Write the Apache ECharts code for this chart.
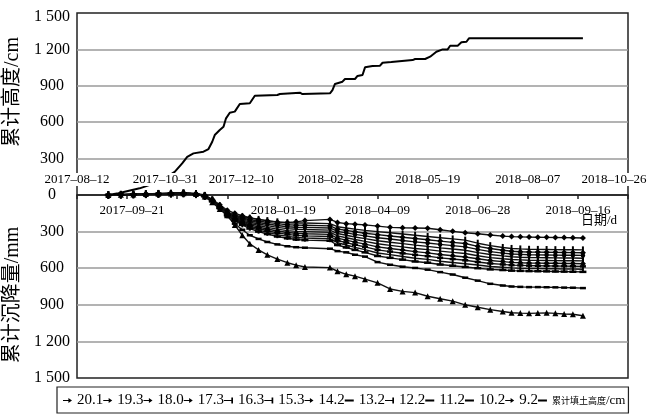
<!DOCTYPE html>
<html>
<head>
<meta charset="utf-8">
<script src="https://cdn.jsdelivr.net/npm/echarts@6/dist/echarts.min.js"></script>
<style>
  html, body { margin: 0; padding: 0; background: #fff; }
  #chart { width: 649px; height: 415px; }
</style>
</head>
<body>
<div id="chart"></div>
<script>
// ---- survey dates of the settlement plates ----
const surveyDates = [
  '2017-09-06','2017-09-16','2017-09-26','2017-10-06','2017-10-16','2017-10-26','2017-11-05','2017-11-15',
  '2017-11-22','2017-11-28','2017-12-04','2017-12-10','2017-12-16','2017-12-22','2017-12-28','2018-01-04',
  '2018-01-11','2018-01-19','2018-01-27','2018-02-03','2018-02-10','2018-03-02','2018-03-08','2018-03-15',
  '2018-03-22','2018-03-30','2018-04-09','2018-04-19','2018-04-29','2018-05-09','2018-05-19','2018-05-29',
  '2018-06-08','2018-06-18','2018-06-28','2018-07-08','2018-07-18','2018-07-25','2018-08-01','2018-08-08',
  '2018-08-15','2018-08-22','2018-08-29','2018-09-05','2018-09-12','2018-09-20'
];

// ---- cumulative settlement (mm) per plate ----
const settle201 = [0,-3,-6,-8,-12,-15,-18,-12, 0,35,80,125,150,170,185,200,212,222, 225,220,210,200,225,235,240,245,255,265, 268,270,272,285,298,310,318,328,337,341, 343,345,346,347,348,349,350,353];
const settle193 = [0,-3,-5,-8,-10,-12,-15,-10, 5,40,90,140,165,180,190,200,210,220, 228,230,230,235,260,270,280,290,300,310, 320,330,340,350,360,370,395,415,430,438, 442,445,446,447,448,449,449,450];
const settle180 = [0,-2,-5,-7,-10,-12,-14,-9, 6,41,92,143,171,188,201,213,224,235, 244,247,248,253,279,290,301,313,325,336, 346,357,367,378,388,398,421,439,453,461, 465,467,468,469,470,471,472,473];
const settle173 = [0,-3,-6,-8,-11,-13,-15,-8, 6,43,94,146,176,196,211,225,238,250, 260,264,265,270,298,310,323,335,350,361, 373,384,394,405,415,425,446,464,476,484, 487,490,491,492,493,494,494,495];
const settle163 = [0,-2,-4,-7,-9,-11,-13,-7, 7,44,96,149,182,204,222,238,251,265, 276,281,283,288,316,330,344,358,375,387, 399,411,421,433,443,453,472,488,499,506, 510,512,513,514,515,516,517,518];
const settle153 = [0,-3,-5,-8,-10,-13,-16,-8, 8,45,98,153,188,213,233,250,265,280, 292,298,300,305,335,350,365,380,400,413, 425,438,448,460,470,480,498,513,523,529, 532,535,536,537,538,539,539,540];
const settle142 = [0,-2,-4,-6,-9,-11,-12,-6, 8,46,99,156,193,221,243,263,279,295, 307,314,318,323,354,370,386,403,425,438, 451,464,474,488,498,508,523,537,546,552, 555,557,558,559,560,561,562,563];
const settle132 = [0,-2,-5,-7,-9,-12,-13,-6, 9,48,101,159,199,229,254,275,293,310, 323,331,335,340,373,390,408,425,450,464, 478,491,501,515,525,535,549,561,569,575, 577,579,580,581,582,583,584,585];
const settle122 = [0,-1,-3,-5,-8,-10,-12,-5, 9,49,103,162,204,237,264,288,306,325, 339,348,353,358,391,410,429,448,475,489, 504,518,528,543,553,563,574,586,592,597, 600,602,603,604,605,606,607,608];
const settle112 = [0,-2,-4,-6,-8,-10,-12,-5, 10,50,105,165,210,245,275,300,320,340, 355,365,370,375,410,430,450,470,500,515, 530,545,555,570,580,590,600,610,615,620, 622,624,625,626,627,628,629,630];
const settle102 = [0,-2,-4,-5,-8,-10,-12,-5, 10,52,110,175,235,285,330,360,385,405, 420,428,432,440,460,470,490,505,550,572, 588,598,612,632,652,678,702,728,742,750, 753,755,755,756,757,759,760,763];
const settle92  = [0,-2,-5,-8,-10,-12,-15,-8, 12,60,115,165,245,330,400,450,490,525, 555,575,590,595,625,650,665,690,720,770, 790,800,830,850,870,900,920,940,955,965, 968,970,968,966,970,975,978,990];

const plateNames = ['20.1','19.3','18.0','17.3','16.3','15.3','14.2','13.2','12.2','11.2','10.2','9.2'];
const plateValues = [settle201, settle193, settle180, settle173, settle163, settle153,
                     settle142, settle132, settle122, settle112, settle102, settle92];

// ---- cumulative fill height (cm) ----
const fillDates = [
  '2017-09-06','2017-09-14','2017-10-01','2017-10-17','2017-10-29','2017-11-04','2017-11-08','2017-11-13',
  '2017-11-21','2017-11-25','2017-11-28','2017-11-30','2017-12-04','2017-12-07','2017-12-09','2017-12-12',
  '2017-12-16','2017-12-20','2017-12-28','2018-01-01','2018-01-19','2018-01-21','2018-02-06','2018-02-08',
  '2018-03-02','2018-03-04','2018-03-06','2018-03-12','2018-03-14','2018-03-22','2018-03-24','2018-03-28',
  '2018-03-30','2018-04-05','2018-04-11','2018-04-13','2018-04-20','2018-04-21','2018-05-07','2018-05-09',
  '2018-05-17','2018-05-21','2018-05-26','2018-05-31','2018-06-04','2018-06-06','2018-06-12','2018-06-15',
  '2018-06-19','2018-06-21','2018-09-20'
];
const fillHeight = [
  0,15,55,110,190,260,315,343,
  357,379,439,494,536,563,632,678,
  687,750,756,818,824,832,843,832,
  838,865,915,934,956,956,981,989,
  1052,1063,1066,1090,1096,1107,1112,1121,
  1121,1140,1181,1200,1200,1230,1230,1258,
  1263,1291,1291
];
const fillName = '累计填土高度/cm';

// ---- date axis ticks ----
const tickDates = ['2017-08-12','2017-09-21','2017-10-31','2017-12-10','2018-01-19','2018-02-28',
                   '2018-04-09','2018-05-19','2018-06-28','2018-08-07','2018-09-16','2018-10-26'];

// ---------------------------------------------------------------
const DAY = 86400000;
const ORIGIN = Date.UTC(2017, 7, 12);
function dayOf(s) {
  const p = s.split('-').map(Number);
  return (Date.UTC(p[0], p[1] - 1, p[2]) - ORIGIN) / DAY;
}
function spaced(v) {
  v = Math.abs(v);
  return v >= 1000 ? Math.floor(v / 1000) + ' ' + String(v % 1000).padStart(3, '0') : String(v);
}

const SERIF = '"Liberation Serif", "Times New Roman", "Noto Sans CJK SC", serif';
const CJK = '"Noto Sans CJK SC", sans-serif';

// labels sit alternately above / below the zero line, nudged sideways where they crowd
const aboveIdx = [0, 2, 3, 5, 7, 9, 11];
const nudge = { 1: 5, 2: -12, 3: 14, 4: 6, 5: 3, 11: -14 };
function dateRich(withBackground) {
  const rich = { t: { fontFamily: SERIF, fontSize: 13, color: '#000' } };
  if (withBackground) {
    rich.t.backgroundColor = '#fff';
  }
  for (let s = 1; s <= 40; s++) {
    rich['g' + s] = { width: s, fontSize: 13, fontFamily: SERIF };
  }
  return rich;
}
function dateLabel(v, above) {
  const i = Math.round(v / 40);
  if (i < 0 || i >= tickDates.length) return '';
  if ((aboveIdx.indexOf(i) >= 0) !== above) return '';
  const txt = '{t|' + tickDates[i].replace(/-/g, '\u2013') + '}';
  const s = nudge[i] || 0;
  if (s > 0) return '{g' + (2 * s) + '|\u00a0}' + txt;
  if (s < 0) return txt + '{g' + (-2 * s) + '|\u00a0}';
  return txt;
}

// legend glyphs: short line with the plate's marker
const iconArrow = 'path://M0,3.4L6,3.4L6,1L10,3.9L6,6.8L6,4.4L0,4.4Z';
const iconBar = 'path://M0,3.4L7,3.4L7,1L8.6,1L8.6,6.8L7,6.8L7,4.4L0,4.4Z';
const iconDash = 'path://M0,3L8,3L8,4.8L0,4.8Z';
const legendIcons = [iconArrow, iconArrow, iconArrow, iconArrow, iconBar, iconBar,
                     iconArrow, iconDash, iconBar, iconDash, iconDash, iconArrow];

const markerShapes = [
  ['diamond', 6], ['rect', [2, 7]], ['diamond', 6], ['circle', 4.5],
  ['rect', [2, 8]], ['rect', [2, 7]], ['diamond', 6], ['rect', [6, 2.5]],
  ['rect', [2, 7]], ['rect', [7, 2.5]], ['rect', [6, 2.5]], ['triangle', 6]
];

const series = plateNames.map((name, k) => ({
  name: name,
  type: 'line',
  xAxisIndex: 1,
  yAxisIndex: 1,
  data: surveyDates.map((d, i) => [dayOf(d), plateValues[k][i]]),
  symbol: markerShapes[k][0],
  symbolSize: markerShapes[k][1],
  showAllSymbol: true,
  clip: false,
  lineStyle: { color: '#111', width: 1.4 },
  itemStyle: { color: '#000' },
  z: 3
}));
series.push({
  name: fillName,
  type: 'line',
  xAxisIndex: 0,
  yAxisIndex: 0,
  data: fillDates.map((d, i) => [dayOf(d), fillHeight[i]]),
  symbol: 'none',
  clip: false,
  lineStyle: { color: '#000', width: 2 },
  itemStyle: { color: '#000' },
  z: 3
});

const gridBase = {
  left: 77, right: 21, show: true, borderColor: '#222', borderWidth: 1.5,
  backgroundColor: 'transparent', containLabel: false, outerBoundsMode: 'none'
};
const splitGrey = { show: true, showMinLine: false, showMaxLine: false, lineStyle: { color: '#9a9a9a', width: 1.5 } };
const yLabel = { align: 'center', margin: 25, color: '#000', fontFamily: SERIF, fontSize: 16 };

const option = {
  animation: false,
  backgroundColor: '#fff',
  textStyle: { fontFamily: SERIF, color: '#000' },
  grid: [
    Object.assign({ top: 13, height: 182 }, gridBase),
    Object.assign({ top: 195, height: 183 }, gridBase)
  ],
  xAxis: [
    {
      gridIndex: 0, type: 'value', min: 0, max: 440, interval: 40, position: 'bottom', z: 10,
      axisLine: { show: false }, axisTick: { show: false }, splitLine: { show: false },
      axisLabel: {
        inside: true, margin: 9, showMinLabel: true, showMaxLabel: true, hideOverlap: false,
        rich: dateRich(true), overflow: 'none',
        formatter: v => dateLabel(v, true)
      }
    },
    {
      gridIndex: 1, type: 'value', min: 0, max: 440, interval: 40, position: 'top',
      axisLine: { show: false },
      axisTick: { show: true, inside: true, length: 4, lineStyle: { color: '#222', width: 1.5 } },
      splitLine: { show: false },
      axisLabel: {
        inside: true, margin: 9, showMinLabel: true, showMaxLabel: true, hideOverlap: false,
        rich: dateRich(false), overflow: 'none',
        formatter: v => dateLabel(v, false)
      }
    }
  ],
  yAxis: [
    {
      gridIndex: 0, type: 'value', min: 0, max: 1500, interval: 300,
      axisLine: { show: false }, axisTick: { show: false }, splitLine: splitGrey,
      axisLabel: Object.assign({
        formatter: v => v === 0 ? '' : (v === 1500 ? '{hi|1 500}' : spaced(v)),
        rich: { hi: { fontFamily: SERIF, fontSize: 16, color: '#000', padding: [7, 0, 0, 0] } }
      }, yLabel),
      name: '累计高度/cm', nameLocation: 'middle', nameRotate: 90, nameGap: 50,
      nameTextStyle: { fontFamily: SERIF, fontSize: 20, color: '#000', padding: [0, 0, 0, 24] }
    },
    {
      gridIndex: 1, type: 'value', min: 0, max: 1500, interval: 300, inverse: true,
      axisLine: { show: false }, axisTick: { show: false }, splitLine: splitGrey,
      axisLabel: Object.assign({ formatter: v => spaced(v) }, yLabel),
      name: '累计沉降量/mm', nameLocation: 'middle', nameRotate: 90, nameGap: 50,
      nameTextStyle: { fontFamily: SERIF, fontSize: 20, color: '#000', padding: [0, 17, 0, 0] }
    }
  ],
  legend: {
    left: 57, top: 387, width: 590, orient: 'horizontal',
    padding: [6, 3, 5, 6], itemGap: 0, itemWidth: 9, itemHeight: 7,
    borderColor: '#222', borderWidth: 1.2,
    data: plateNames.map((n, k) => ({ name: n, icon: legendIcons[k] }))
      .concat([{ name: fillName, icon: iconDash }]),
    textStyle: {
      fontFamily: SERIF, fontSize: 15, color: '#000',
      rich: {
        c: { fontFamily: CJK, fontSize: 9, color: '#000' },
        l: { fontFamily: SERIF, fontSize: 13, color: '#000' }
      }
    },
    formatter: name => name === fillName ? '{c|累计填土高度}{l|/cm}' : name
  },
  graphic: [
    {
      type: 'text', right: 32, top: 214,
      style: { text: '日期/d', font: '13px ' + SERIF, fill: '#000' }
    }
  ],
  series: series
};

const chart = echarts.init(document.getElementById('chart'), null, { renderer: 'canvas' });
chart.setOption(option);
</script>
</body>
</html>
